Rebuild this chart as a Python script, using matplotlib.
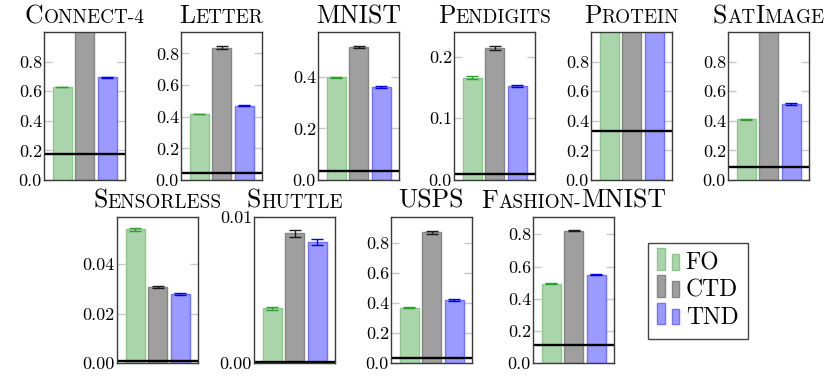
import matplotlib
matplotlib.use('Agg')
import matplotlib.pyplot as plt
from matplotlib.patches import Rectangle
from matplotlib.legend_handler import HandlerBase
from matplotlib.ticker import FormatStrFormatter

# values (bars above the top are clipped)
datasets = ['Connect-4', 'Letter', 'MNIST', 'Pendigits', 'Protein', 'SatImage',
            'Sensorless', 'Shuttle', 'USPS', 'Fashion-MNIST']
methods = ['FO', 'CTD', 'TND']
fo = [0.629, 0.417, 0.397, 0.166, 1.5, 0.410, 0.0539, 0.00375, 0.371, 0.494]
ctd = [1.5, 0.836, 0.516, 0.2135, 1.5, 1.5, 0.0306, 0.00887, 0.873, 0.822]
tnd = [0.694, 0.469, 0.360, 0.152, 1.5, 0.511, 0.0279, 0.00825, 0.422, 0.549]
fo_err = [0.002, 0.003, 0.002, 0.002, 0, 0.003, 0.0006, 0.00012, 0.003, 0.002]
ctd_err = [0, 0.008, 0.004, 0.003, 0, 0, 0.0004, 0.00025, 0.01, 0.003]
tnd_err = [0.003, 0.004, 0.002, 0.002, 0, 0.006, 0.0004, 0.0002, 0.004, 0.003]
ref_line = [0.174, 0.042, 0.034, 0.0097, 0.331, 0.089, 0.001, 0.0001, 0.037, 0.113]
ymax = [1.0, 0.935, 0.573, 0.24, 1.0, 1.0, 0.059, 0.01, 0.977, 0.909]
yticks = [[0, 0.2, 0.4, 0.6, 0.8], [0, 0.2, 0.4, 0.6, 0.8], [0, 0.2, 0.4], [0, 0.1, 0.2],
          [0, 0.2, 0.4, 0.6, 0.8], [0, 0.2, 0.4, 0.6, 0.8], [0, 0.02, 0.04], [0, 0.01],
          [0, 0.2, 0.4, 0.6, 0.8], [0, 0.2, 0.4, 0.6, 0.8]]
tick_fmt = ['%.1f'] * 6 + ['%.2f', '%.2f', '%.1f', '%.1f']

fills = ['#aad5aa', '#9f9f9f', '#9b9bff']
edges = ['#8cc88c', '#858585', '#7272ff']
errc = ['#2f9f2f', '#1a1a1a', '#0000ee']

FONT = 'cmr10'
W, H = 831, 390
fig = plt.figure(figsize=(W / 100, H / 100), dpi=100)

# left edge of each axes box, pixels
lefts = [44, 181, 318, 454, 591, 728, 117, 254, 391, 533]


def small_caps_title(ax, name, big=18.5, small=13.8):
    groups = []
    for ch in name:
        is_big = ch.isupper()
        if groups and groups[-1][1] == is_big:
            groups[-1][0] += ch
        else:
            groups.append([ch, is_big])
    renderer = fig.canvas.get_renderer()
    texts = []
    for s, is_big in groups:
        t = fig.text(0, 0, s.upper(), fontsize=big if is_big else small,
                     family=FONT, va='baseline', ha='left')
        texts.append((t, t.get_window_extent(renderer).width))
    box = ax.get_position()
    total = sum(w for _, w in texts)
    x = (box.x0 + box.x1) / 2 * W - total / 2
    y = box.y1 * H + 9
    for t, w in texts:
        t.set_position((x / W, y / H))
        x += w


for i, name in enumerate(datasets):
    if i < 6:
        top, bottom = 32, 180
    else:
        top, bottom = 216.7, 363.3
    ax = fig.add_axes([lefts[i] / W, (H - bottom) / H, 81 / W, (bottom - top) / H])
    vals = [fo[i], ctd[i], tnd[i]]
    errs = [fo_err[i], ctd_err[i], tnd_err[i]]
    for k in range(3):
        ax.bar(k, vals[k], width=0.85, color=fills[k], edgecolor=edges[k],
               linewidth=1, zorder=2)
        if errs[k] > 0:
            ax.errorbar(k, vals[k], yerr=errs[k], color=errc[k], capsize=4,
                        elinewidth=1, capthick=1, zorder=3)
    ax.axhline(ref_line[i], color='black', lw=1.7, zorder=4)
    ax.set_xlim(-0.82, 2.8)
    ax.set_ylim(0, ymax[i])
    ax.set_xticks([])
    ax.set_yticks(yticks[i])
    ax.yaxis.set_major_formatter(FormatStrFormatter(tick_fmt[i]))
    ax.tick_params(axis='y', direction='in', length=6, width=1, color='#c8c8c8',
                   left=True, right=True, labelsize=13, pad=1.5)
    for lab in ax.get_yticklabels():
        lab.set_family(FONT)
    for sp in ax.spines.values():
        sp.set_color('#3a3a3a')
        sp.set_linewidth(1)
        sp.set_zorder(5)
    small_caps_title(ax, name)


class TwoBars(HandlerBase):
    def create_artists(self, legend, orig_handle, xdescent, ydescent, width, height,
                       fontsize, trans):
        fc = orig_handle.get_facecolor()
        ec = orig_handle.get_edgecolor()
        bw = width * 0.32
        r1 = Rectangle((-xdescent, -ydescent), bw, height * 1.3, facecolor=fc,
                       edgecolor=ec, lw=1, transform=trans)
        r2 = Rectangle((-xdescent + width * 0.64, -ydescent), bw, height * 0.95,
                       facecolor=fc, edgecolor=ec, lw=1, transform=trans)
        return [r1, r2]


proxies = [Rectangle((0, 0), 1, 1, facecolor=fills[k], edgecolor=edges[k])
           for k in range(3)]
leg = fig.legend(proxies, methods, handler_map={Rectangle: TwoBars()},
                 loc='upper left', bbox_to_anchor=(648 / W, 1 - 243 / H),
                 borderaxespad=0, frameon=True, fancybox=False, framealpha=1,
                 edgecolor='#444444', prop={'family': FONT, 'size': 17},
                 handlelength=0.95, handletextpad=0.25, labelspacing=0.22,
                 borderpad=0.4)
leg.get_frame().set_linewidth(1)

fig.savefig('out.png', dpi=100)
